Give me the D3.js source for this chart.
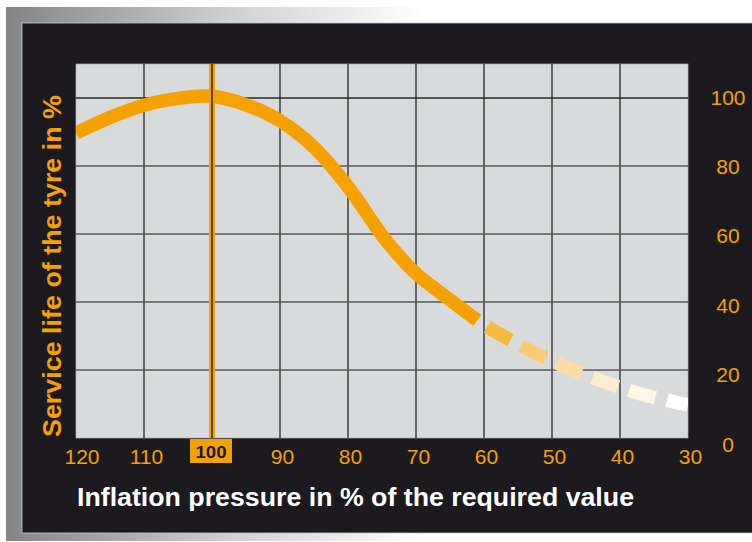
<!DOCTYPE html>
<html><head><meta charset="utf-8">
<script src="https://cdn.jsdelivr.net/npm/d3@7"></script>
<style>html,body{margin:0;padding:0;background:#fff;} svg{display:block}</style>
</head><body><svg id="c" width="752" height="542"></svg>
<script>
// ---- data ----
const pressure      = [120, 115, 110, 105, 100, 95, 90, 85, 80, 75, 72, 70, 65, 61];
const serviceLife   = [89.7, 94.3, 97.9, 99.9, 100.5, 98.0, 93.3, 85.5, 73.9, 59.6, 52.5, 48.4, 40.6, 34.6];
const pressureDashed    = [61, 57.5, 52.2, 46.9, 41.9, 36.8, 30];
const serviceLifeDashed = [34.6, 30.3, 24.7, 20, 16.2, 12.9, 9.7];
const xTicks = [120, 110, 100, 90, 80, 70, 60, 50, 40, 30];
const yTicks = [0, 20, 40, 60, 80, 100];
const requiredValue = 100;
const xTitle = "Inflation pressure in % of the required value";
const yTitle = "Service life of the tyre in %";

// ---- styles ----
const ORANGE = "#f5a100";
const DARK = "#1c1a1f";
const PLOT_BG = "#d9dadc";
const GRID = "#474747";
const FONT = "'Liberation Sans', Arial, Helvetica, sans-serif";
const dashTones = [0.25, 0.45, 0.64, 0.81, 0.91, 1.0];

const svg = d3.select("#c");
const defs = svg.append("defs");

// frame gradient
const g = defs.append("linearGradient").attr("id", "frameGrad")
  .attr("gradientUnits", "userSpaceOnUse").attr("x1", 6).attr("x2", 752).attr("y1", 0).attr("y2", 0);
g.append("stop").attr("offset", 0).attr("stop-color", "#838486");
g.append("stop").attr("offset", 0.3).attr("stop-color", "#cfd0d2");
g.append("stop").attr("offset", 0.56).attr("stop-color", "#ffffff");
g.append("stop").attr("offset", 1).attr("stop-color", "#ffffff");

svg.append("rect").attr("x", 6).attr("y", 7).attr("width", 760).attr("height", 534).attr("fill", "url(#frameGrad)");
svg.append("rect").attr("x", 22).attr("y", 23).attr("width", 740).attr("height", 510)
  .attr("fill", DARK).attr("stroke", "#c8c8c8").attr("stroke-width", 0.8);

// ---- scales ----
const x = d3.scaleLinear().domain([120, 30]).range([76, 688]);
const y = d3.scaleLinear().domain([0, 110]).range([438, 64]);
const yLabel = d3.scaleLinear().domain([0, 100]).range([y(0) + 6, y(100) - 1]);

const [px0, px1] = x.range();
const [py0, py1] = [y(110), y(0)];

// plot background
svg.append("rect").attr("x", px0).attr("y", py0).attr("width", px1 - px0).attr("height", py1 - py0)
  .attr("fill", PLOT_BG).attr("stroke", "#a9aaac").attr("stroke-width", 0.8);

defs.append("clipPath").attr("id", "plotClip").append("rect")
  .attr("x", px0).attr("y", py0).attr("width", px1 - px0).attr("height", py1 - py0);

// grid
const grid = svg.append("g");
grid.selectAll("line.v").data(xTicks.filter(d => d !== 120 && d !== 30 && d !== requiredValue))
  .join("line").attr("class", "v")
  .attr("x1", d => x(d)).attr("x2", d => x(d)).attr("y1", py0).attr("y2", py1)
  .attr("stroke", GRID).attr("stroke-width", 1.6);
grid.selectAll("line.h").data(yTicks.filter(d => d > 0))
  .join("line").attr("class", "h")
  .attr("x1", px0).attr("x2", px1).attr("y1", d => y(d)).attr("y2", d => y(d))
  .attr("stroke", d => d === 100 ? "#2a2a2a" : "#5a5a5a").attr("stroke-width", 1.6);

// curve
const solidData = pressure.map((p, i) => [p, serviceLife[i]]);
const dashData = pressureDashed.map((p, i) => [p, serviceLifeDashed[i]]);
const line = d3.line().x(d => x(d[0])).y(d => y(d[1])).curve(d3.curveCatmullRom.alpha(0.5));

const plot = svg.append("g").attr("clip-path", "url(#plotClip)");
plot.append("path").attr("d", line(solidData)).attr("fill", "none")
  .attr("stroke", ORANGE).attr("stroke-width", 13.5).attr("stroke-linejoin", "round").attr("stroke-linecap", "butt");

const tmp = plot.append("path").attr("d", line(dashData)).attr("fill", "none").attr("stroke", "none");
const total = tmp.node().getTotalLength();
const firstGap = 12, period = 39, dashLen = 27;
const interp = d3.interpolateRgb(ORANGE, "#ffffff");
dashTones.forEach((t, i) => {
  const start = firstGap + i * period;
  plot.append("path").attr("d", line(dashData)).attr("fill", "none")
    .attr("stroke", interp(t)).attr("stroke-width", 13.5).attr("stroke-linecap", "butt")
    .attr("stroke-dasharray", `0 ${start} ${dashLen} ${total + 50}`);
});
tmp.remove();

// required value line
svg.append("rect").attr("x", x(requiredValue) - 3).attr("y", py0).attr("width", 6).attr("height", py1 - py0)
  .attr("fill", ORANGE);
svg.append("line").attr("x1", x(requiredValue)).attr("x2", x(requiredValue)).attr("y1", py0).attr("y2", py1)
  .attr("stroke", "#3a3020").attr("stroke-width", 1.6);

// bottom tick labels
const xl = svg.append("g").attr("font-family", FONT).attr("font-size", 21).attr("fill", ORANGE).attr("text-anchor", "middle");
xl.selectAll("text").data(xTicks.filter(d => d !== requiredValue)).join("text")
  .attr("x", d => x(d) + (d === 120 ? 6 : 2.5)).attr("y", 464).text(d => d);

// boxed required value
svg.append("rect").attr("x", x(requiredValue) - 22).attr("y", py1 + 1).attr("width", 42).attr("height", 24).attr("fill", ORANGE);
svg.append("text").attr("x", x(requiredValue) - 1).attr("y", 457.5).attr("text-anchor", "middle")
  .attr("font-family", FONT).attr("font-weight", "bold").attr("font-size", 16.5).attr("fill", DARK)
  .attr("textLength", 31).attr("lengthAdjust", "spacingAndGlyphs").text(requiredValue);

// right tick labels
const yl = svg.append("g").attr("font-family", FONT).attr("font-size", 21).attr("fill", ORANGE).attr("text-anchor", "middle");
yl.selectAll("text").data(yTicks).join("text")
  .attr("x", 728).attr("y", d => yLabel(d) + 7.5).text(d => d);

// titles
svg.append("text").attr("x", 77).attr("y", 506).attr("font-family", FONT).attr("font-weight", "bold")
  .attr("font-size", 25.5).attr("fill", "#ffffff").attr("textLength", 557).attr("lengthAdjust", "spacingAndGlyphs")
  .text(xTitle);

svg.append("text").attr("transform", "translate(61,437) rotate(-90)").attr("x", 0).attr("y", 0)
  .attr("font-family", FONT).attr("font-weight", "bold").attr("font-size", 26).attr("fill", ORANGE)
  .attr("textLength", 342).attr("lengthAdjust", "spacingAndGlyphs").text(yTitle);
</script>
</body></html>
